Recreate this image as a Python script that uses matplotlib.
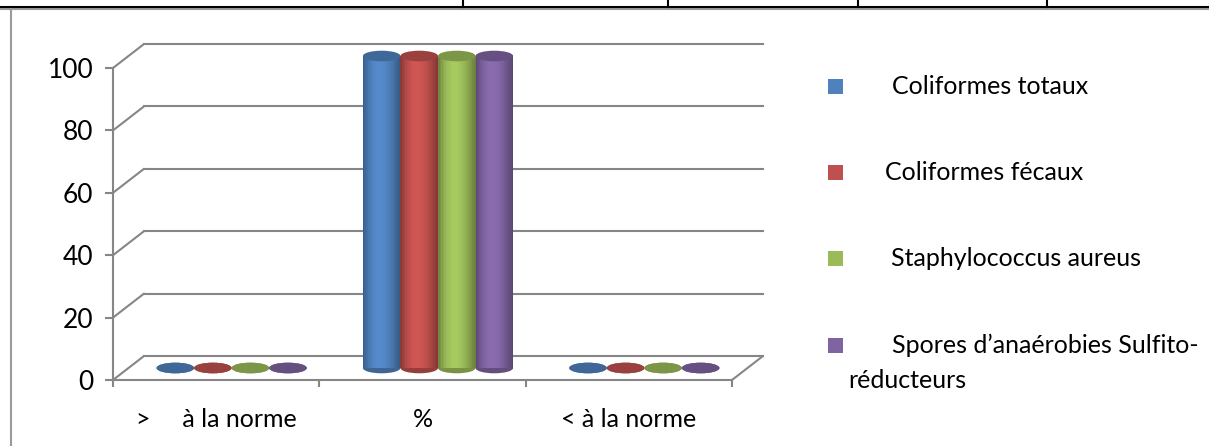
import numpy as np
import matplotlib
matplotlib.use("Agg")
import matplotlib.pyplot as plt
from matplotlib.patches import Rectangle, Ellipse, ConnectionPatch
from matplotlib.lines import Line2D
from matplotlib.transforms import offset_copy

plt.rcParams['font.family'] = ['Lato', 'DejaVu Sans']

categories = [">     à la norme", "%", "< à la norme"]
series = ["Coliformes totaux", "Coliformes fécaux", "Staphylococcus aureus",
          "Spores d\u2019anaérobies Sulfito-réducteurs"]
values = {
    "Coliformes totaux": [0, 100, 0],
    "Coliformes fécaux": [0, 100, 0],
    "Staphylococcus aureus": [0, 100, 0],
    "Spores d\u2019anaérobies Sulfito-réducteurs": [0, 100, 0],
}
colors = ["#4f81bd", "#c0504d", "#9bbb59", "#8064a2"]
yticks = [0, 20, 40, 60, 80, 100]

W, H = 1209, 446
fig = plt.figure(figsize=(W / 100, H / 100), dpi=100)


def fx(x):
    return x / W


def fy(y):
    return 1 - y / H


ax = fig.add_axes([fx(113), fy(380), fx(732) - fx(113), fy(68) - fy(380)])
ax.set_xlim(0, 3)
ax.set_ylim(0, 100)
ax.patch.set_visible(False)

grey = "#868686"
for s in ["top", "right"]:
    ax.spines[s].set_visible(False)
for s in ["left", "bottom"]:
    ax.spines[s].set_color(grey)
    ax.spines[s].set_linewidth(1.5)

ax.set_yticks(yticks)
ax.set_yticklabels([str(v) for v in yticks], fontsize=19)
ax.tick_params(axis="y", length=6, width=1.5, color=grey, pad=8)
ax.set_xticks([0, 1, 2, 3])
ax.set_xticklabels([])
ax.tick_params(axis="x", length=5, width=1.5, color=grey)
ax.set_xticks([0.5, 1.5, 2.5], minor=True)
ax.set_xticklabels(categories, minor=True, fontsize=18)
ax.tick_params(axis="x", which="minor", length=0, pad=20)

# depth transforms (back wall and mid depth of the bars)
back = offset_copy(ax.transData, fig=fig, x=31, y=24, units="dots")
mid = offset_copy(ax.transData, fig=fig, x=15.5, y=12, units="dots")

for v in yticks:
    ax.plot([0, 3], [v, v], color=grey, lw=1.5, transform=back, clip_on=False, zorder=1)
    ax.add_artist(ConnectionPatch(xyA=(0, v), coordsA=ax.transData, xyB=(0, v),
                                  coordsB=back, color=grey, lw=1.5, zorder=1))
ax.add_artist(ConnectionPatch(xyA=(3, 0), coordsA=ax.transData, xyB=(3, 0),
                              coordsB=back, color=grey, lw=1.5, zorder=1))

# cylinders
bw = 0.182
eh = 3.4
nstrip = 24
for i in range(len(categories)):
    for j, name in enumerate(series):
        v = values[name][i]
        base = np.array(matplotlib.colors.to_rgb(colors[j]))
        x0 = i + 0.5 + (j - 2) * bw
        xc = x0 + bw / 2
        z = 3 + j
        ax.add_patch(Ellipse((xc, 0), bw, eh, facecolor=base * 0.78, edgecolor="none",
                             transform=mid, clip_on=False, zorder=z))
        if v > 0:
            for k in range(nstrip):
                t = (k + 0.5) / nstrip
                f = 0.68 + 0.4 * np.sin(np.pi * t ** 0.85)
                c = np.clip(base * f, 0, 1)
                ax.add_patch(Rectangle((x0 + k * bw / nstrip, 0), bw / nstrip * 1.05, v,
                                       facecolor=c, edgecolor="none", transform=mid,
                                       clip_on=False, zorder=z))
        ax.add_patch(Ellipse((xc, v), bw, eh, facecolor=base * 0.8, edgecolor="none",
                             transform=mid, clip_on=False, zorder=z + 0.5))

# legend
leg_y = [86, 172, 258, 345]
leg_x = [892, 885, 891, 892]
for j, name in enumerate(series):
    fig.patches.append(Rectangle((fx(828), fy(leg_y[j] + 7.5)), fx(15), 15 / H,
                                 facecolor=colors[j], edgecolor="none",
                                 transform=fig.transFigure))
    lab = name
    if j == 3:
        lab = name.split("-")[0] + "-"
    fig.text(fx(leg_x[j]), fy(leg_y[j]), lab, fontsize=18, va="center", ha="left")
fig.text(fx(848), fy(381), series[3].split("-")[1], fontsize=18, va="center", ha="left")

# table border lines
fig.add_artist(Line2D([0, 1], [fy(8.5), fy(8.5)], color="#9a9a9a", lw=1.5,
                      transform=fig.transFigure))
fig.add_artist(Line2D([0, 1], [fy(7), fy(7)], color="black", lw=1.5,
                      transform=fig.transFigure))
for xv in [463, 668, 858, 1047]:
    fig.add_artist(Line2D([fx(xv), fx(xv)], [1, fy(7)], color="black", lw=1.5,
                          transform=fig.transFigure))
fig.add_artist(Line2D([fx(11), fx(11)], [fy(9), 0], color="#9a9a9a", lw=1.5,
                      transform=fig.transFigure))

fig.savefig("out.png", dpi=100)
